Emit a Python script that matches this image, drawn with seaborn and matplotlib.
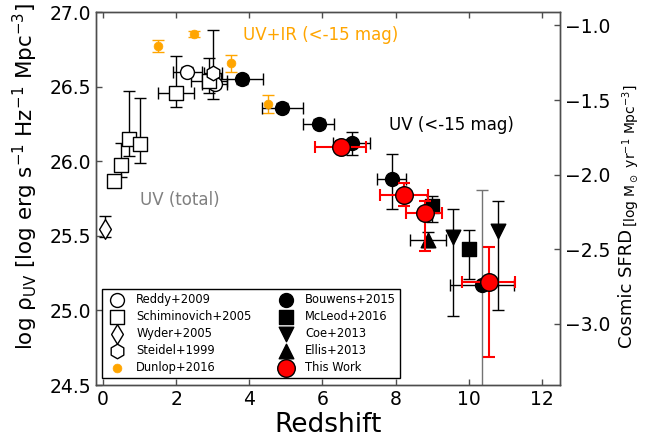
import matplotlib
matplotlib.use("Agg")
import matplotlib.pyplot as plt
import numpy as np
import pandas as pd
import seaborn as sns

# ---------------- data: redshift, log UV luminosity density, errors ----------------
reddy_z = [2.3, 3.05]
reddy_rho = [26.60, 26.52]
reddy_xerr = [0.4, 0.35]
reddy_yerr = [0.03, 0.03]

schim_z = [0.3, 0.5, 0.7, 1.0, 2.0, 2.9]
schim_rho = [25.865, 25.975, 26.15, 26.115, 26.455, 26.54]
schim_xerr = [0.0, 0.0, 0.0, 0.0, 0.5, 0.5]
schim_yerr_lo = [0.03, 0.08, 0.115, 0.125, 0.09, 0.08]
schim_yerr_hi = [0.04, 0.145, 0.32, 0.31, 0.25, 0.15]

wyder_z = [0.055]
wyder_rho = [25.543]
wyder_yerr_lo = [0.05]
wyder_yerr_hi = [0.09]

steidel_z = [3.0]
steidel_rho = [26.59]
steidel_xerr = [0.25]
steidel_yerr_lo = [0.17]
steidel_yerr_hi = [0.29]

dunlop_z = [1.5, 2.5, 3.5, 4.5]
dunlop_rho = [26.77, 26.855, 26.655, 26.385]
dunlop_yerr = [0.04, 0.02, 0.055, 0.06]

bouwens_z = [3.8, 4.9, 5.9, 6.8, 7.9, 10.36]
bouwens_rho = [26.55, 26.36, 26.25, 26.12, 25.88, 25.17]
bouwens_xerr = [0.58, 0.56, 0.42, 0.5, 0.4, 0.87]
bouwens_yerr_lo = [0.03, 0.03, 0.03, 0.077, 0.2, 1.0]
bouwens_yerr_hi = [0.03, 0.03, 0.03, 0.077, 0.17, 0.635]

mcleod_z = [9.0, 10.0]
mcleod_rho = [25.70, 25.41]
mcleod_yerr_lo = [0.11, 0.2]
mcleod_yerr_hi = [0.07, 0.13]

coe_z = [9.58, 10.8]
coe_rho = [25.49, 25.53]
coe_yerr_lo = [0.53, 0.53]
coe_yerr_hi = [0.19, 0.2]

ellis_z = [8.885]
ellis_rho = [25.475]
ellis_xerr = [0.485]
ellis_yerr = [0.05]

work_z = [6.5, 8.24, 8.8, 10.55]
work_rho = [26.095, 25.776, 25.655, 25.19]
work_xerr_lo = [0.70, 0.66, 0.50, 0.74]
work_xerr_hi = [0.70, 0.65, 0.48, 0.73]
work_yerr_lo = [0.04, 0.075, 0.255, 0.5]
work_yerr_hi = [0.04, 0.075, 0.08, 0.234]

x_ticks = [0, 2, 4, 6, 8, 10, 12]
y_ticks = [24.5, 25.0, 25.5, 26.0, 26.5, 27.0]
sfrd_ticks = [-3.0, -2.5, -2.0, -1.5, -1.0]
# conversion from log rho_UV to log SFRD
log_kappa = -27.91

# ---------------- style ----------------
sns.set_style("ticks", {
    "xtick.direction": "in",
    "ytick.direction": "in",
    "axes.edgecolor": "0.3",
    "text.color": "black",
    "axes.labelcolor": "black",
})
plt.rcParams["font.family"] = ["DejaVu Sans"]
plt.rcParams["mathtext.default"] = "regular"
plt.rcParams["axes.linewidth"] = 1.0

fig = plt.figure(figsize=(6.62, 4.45), dpi=100)
ax = fig.add_axes([0.1446, 0.1348, 0.8460 - 0.1446, 0.973 - 0.1348])

EB = dict(fmt="none", elinewidth=1.0, capsize=4, capthick=1.0)


def points(z, rho, marker, face, edge, size, label, zorder=3, lw=1.0):
    df = pd.DataFrame({"z": z, "rho": rho})
    sns.scatterplot(data=df, x="z", y="rho", marker=marker, s=size,
                    color=face, edgecolor=edge, linewidth=lw,
                    label=label, zorder=zorder, legend=False, ax=ax)


# Reddy+2009
ax.errorbar(reddy_z, reddy_rho, xerr=reddy_xerr, yerr=reddy_yerr, ecolor="k", zorder=2, **EB)
points(reddy_z, reddy_rho, "o", "white", "black", 100, "Reddy+2009")

# Schiminovich+2005
ax.errorbar(schim_z, schim_rho, xerr=schim_xerr, yerr=[schim_yerr_lo, schim_yerr_hi],
            ecolor="k", zorder=2, **EB)
points(schim_z, schim_rho, "s", "white", "black", 100, "Schiminovich+2005")

# Wyder+2005
ax.errorbar(wyder_z, wyder_rho, yerr=[wyder_yerr_lo, wyder_yerr_hi], ecolor="k", zorder=2, **EB)
points(wyder_z, wyder_rho, "d", "white", "black", 100, "Wyder+2005")

# Steidel+1999
ax.errorbar(steidel_z, steidel_rho, xerr=steidel_xerr,
            yerr=[steidel_yerr_lo, steidel_yerr_hi], ecolor="k", zorder=2, **EB)
points(steidel_z, steidel_rho, "h", "white", "black", 110, "Steidel+1999")

# Dunlop+2016 (UV+IR)
ax.errorbar(dunlop_z, dunlop_rho, yerr=dunlop_yerr, ecolor="orange", zorder=2, **EB)
points(dunlop_z, dunlop_rho, "o", "orange", "orange", 40, "Dunlop+2016", lw=0.5)

# Bouwens+2015 (last point has a grey vertical error bar)
ax.errorbar(bouwens_z[:-1], bouwens_rho[:-1], xerr=bouwens_xerr[:-1],
            yerr=[bouwens_yerr_lo[:-1], bouwens_yerr_hi[:-1]], ecolor="k", zorder=2, **EB)
ax.errorbar(bouwens_z[-1:], bouwens_rho[-1:], xerr=bouwens_xerr[-1:], ecolor="k", zorder=2, **EB)
ax.errorbar(bouwens_z[-1:], bouwens_rho[-1:],
            yerr=[bouwens_yerr_lo[-1:], bouwens_yerr_hi[-1:]], ecolor="0.45", zorder=2, **EB)
points(bouwens_z, bouwens_rho, "o", "black", "black", 100, "Bouwens+2015")

# McLeod+2016
ax.errorbar(mcleod_z, mcleod_rho, yerr=[mcleod_yerr_lo, mcleod_yerr_hi], ecolor="k", zorder=2, **EB)
points(mcleod_z, mcleod_rho, "s", "black", "black", 90, "McLeod+2016")

# Coe+2013
ax.errorbar(coe_z, coe_rho, yerr=[coe_yerr_lo, coe_yerr_hi], ecolor="k", zorder=2, **EB)
points(coe_z, coe_rho, "v", "black", "black", 110, "Coe+2013")

# Ellis+2013
ax.errorbar(ellis_z, ellis_rho, xerr=ellis_xerr, yerr=ellis_yerr, ecolor="k", zorder=2, **EB)
points(ellis_z, ellis_rho, "^", "black", "black", 110, "Ellis+2013")

# This work
ax.errorbar(work_z, work_rho, xerr=[work_xerr_lo, work_xerr_hi],
            yerr=[work_yerr_lo, work_yerr_hi], ecolor="red", zorder=4,
            fmt="none", elinewidth=1.5, capsize=4.5, capthick=1.5)
points(work_z, work_rho, "o", "red", "black", 160, "This Work", zorder=5)

# ---------------- annotations ----------------
ax.text(3.82, 26.845, "UV+IR (<-15 mag)", color="orange", fontsize=12, va="center", ha="left")
ax.text(7.81, 26.241, "UV (<-15 mag)", color="black", fontsize=12, va="center", ha="left")
ax.text(1.01, 25.737, "UV (total)", color="0.5", fontsize=12, va="center", ha="left")

# ---------------- axes ----------------
ax.set_xlim(-0.2, 12.5)
ax.set_ylim(24.5, 27.0)
ax.set_xticks(x_ticks)
ax.set_yticks(y_ticks)
ax.set_yticklabels([f"{v:.1f}" for v in y_ticks])
ax.tick_params(axis="both", labelsize=13.5, length=4, width=1, color="0.3",
               labelcolor="black", top=True, right=False, direction="in")
ax.set_xlabel("Redshift", fontsize=19, labelpad=2, color="black")
ax.set_ylabel("")
for sp in ax.spines.values():
    sp.set_visible(True)
    sp.set_color("0.3")

ax2 = ax.twinx()
ax2.set_ylim(24.5 + log_kappa, 27.0 + log_kappa)
ax2.set_yticks(sfrd_ticks)
ax2.set_yticklabels([f"{v:.1f}".replace("-", "\u2212") for v in sfrd_ticks])
ax2.tick_params(axis="y", labelsize=13.5, length=4, width=1, color="0.3",
                labelcolor="black", direction="in")
for sp in ax2.spines.values():
    sp.set_color("0.3")

fig.text(25 / 662, 1 - 177 / 445,
         r"log $\rho_{\rm UV}$ [log erg s$^{-1}$ Hz$^{-1}$ Mpc$^{-3}$]",
         rotation=90, ha="center", va="center", fontsize=15.5, color="black")
fig.text(627 / 662, 1 - 348 / 445, "Cosmic SFRD", rotation=90,
         ha="center", va="bottom", fontsize=13, color="black")
fig.text(631 / 662, 1 - 227 / 445, r"[log M$_\odot$ yr$^{-1}$ Mpc$^{-3}$]", rotation=90,
         ha="center", va="bottom", fontsize=10, color="black")

leg = ax.legend(loc="lower left", bbox_to_anchor=(0.013, 0.019), borderaxespad=0,
                ncol=2, fontsize=8.3, frameon=True, fancybox=False, framealpha=1,
                edgecolor="black", scatterpoints=1, labelspacing=0.36,
                columnspacing=1.95, handletextpad=0.7, borderpad=0.3)
leg.get_frame().set_linewidth(1.0)
for t in leg.get_texts():
    t.set_color("black")

fig.savefig("out.png", dpi=100)
